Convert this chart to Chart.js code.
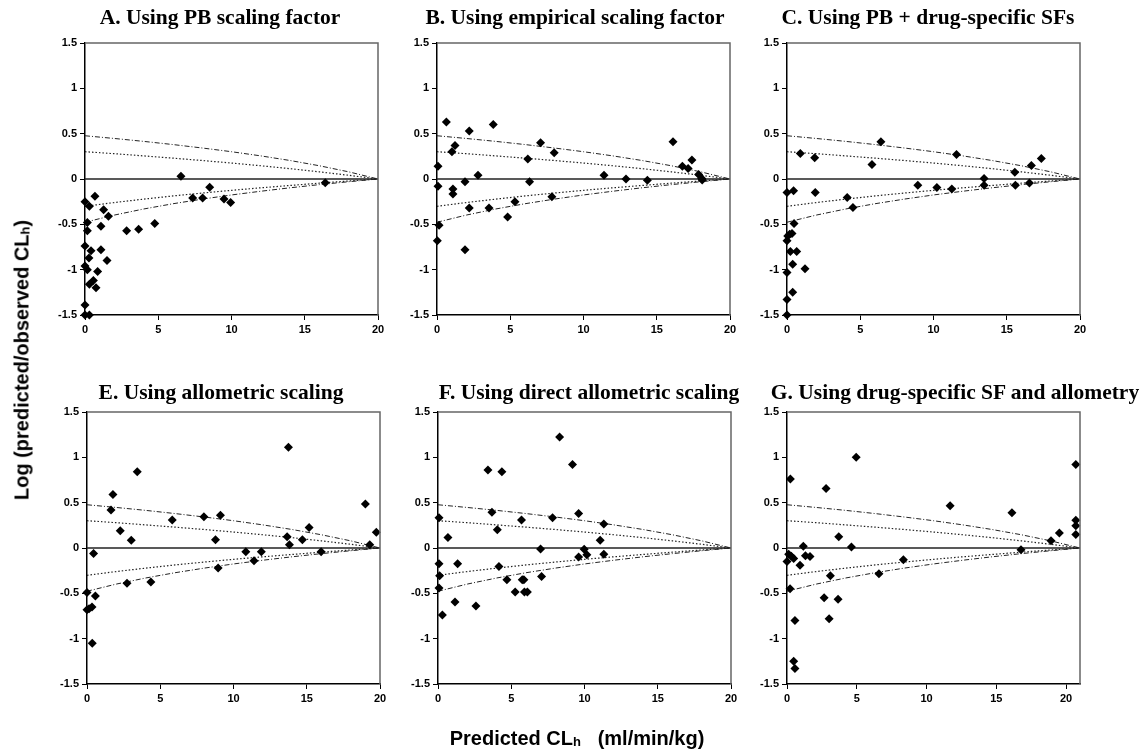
<!DOCTYPE html>
<html>
<head>
<meta charset="utf-8">
<script src="https://cdn.jsdelivr.net/npm/chart.js@4/dist/chart.umd.min.js"></script>
<style>
body { margin: 0; background: #fff; width: 1141px; height: 753px; position: relative; overflow: hidden; font-family: "Liberation Sans", Arial, sans-serif; }
canvas { position: absolute; }
.axt { position: absolute; font-weight: bold; font-size: 20px; white-space: nowrap; color: #000; }
.axt sub { font-size: 13px; vertical-align: -1px; }
.pt { position: absolute; transform: translate(-50%, -50%); font-family: "Liberation Serif", "Times New Roman", serif; font-weight: bold; font-size: 21.5px; white-space: nowrap; color: #000; }
#ytitle { left: 22px; top: 360px; transform: translate(-50%, -50%) rotate(-90deg); }
#xtitle { left: 577px; top: 738px; transform: translate(-50%, -50%); }
</style>
</head>
<body>
<canvas id="pA"></canvas>
<canvas id="pB"></canvas>
<canvas id="pC"></canvas>
<canvas id="pE"></canvas>
<canvas id="pF"></canvas>
<canvas id="pG"></canvas>
<div class="pt" style="left:220px;top:17px">A. Using PB scaling factor</div>
<div class="pt" style="left:575px;top:17px">B. Using empirical scaling factor</div>
<div class="pt" style="left:928px;top:17px">C. Using PB + drug-specific SFs</div>
<div class="pt" style="left:221px;top:392px">E. Using allometric scaling</div>
<div class="pt" style="left:589px;top:392px">F. Using direct allometric scaling</div>
<div class="pt" style="left:955px;top:392px">G. Using drug-specific SF and allometry</div>
<div class="axt" id="ytitle">Log (predicted/observed CL<sub>h</sub>)</div>
<div class="axt" id="xtitle">Predicted CL<sub>h</sub>&nbsp;&nbsp;&nbsp;(ml/min/kg)</div>
<script>
// axis ticks
var xTicks = [0, 5, 10, 15, 20];
var yTicks = [-1.5, -1, -0.5, 0, 0.5, 1, 1.5];

// 2-fold / 3-fold bound curves
var boundX  = [0, 2, 4, 6, 8, 10, 12, 14, 16, 18, 20];
var boundXG = [0, 2.1, 4.2, 6.3, 8.4, 10.5, 12.6, 14.7, 16.8, 18.9, 21];
var upper3 = [0.477, 0.447, 0.415, 0.380, 0.342, 0.301, 0.255, 0.204, 0.146, 0.079, 0];
var upper2 = [0.301, 0.279, 0.255, 0.230, 0.204, 0.176, 0.146, 0.114, 0.079, 0.041, 0];
var lower2 = [-0.301, -0.260, -0.222, -0.187, -0.155, -0.125, -0.097, -0.071, -0.046, -0.022, 0];
var lower3 = [-0.477, -0.398, -0.331, -0.273, -0.222, -0.176, -0.135, -0.097, -0.062, -0.030, 0];

// A. PB scaling factor
var aX = [0, 0.3, 0.68, 0.16, 0.16, 1.27, 1.6, 1.09, 0, 0.41, 1.09, 0.27, 1.5, 0, 0.16, 0.86, 0.57, 0.3, 0.75, 0, 0, 0.3, 2.84, 3.66, 4.76, 6.55, 7.35, 8.03, 8.51, 9.49, 9.94, 16.4];
var aY = [-0.25, -0.30, -0.19, -0.48, -0.57, -0.34, -0.41, -0.52, -0.74, -0.79, -0.78, -0.87, -0.9, -0.96, -1.0, -1.02, -1.12, -1.16, -1.2, -1.39, -1.5, -1.5, -0.57, -0.555, -0.49, 0.03, -0.21, -0.21, -0.09, -0.22, -0.26, -0.04];

// B. empirical scaling factor
var bX = [0.64, 1.23, 1.02, 2.2, 3.84, 0.07, 0.07, 1.09, 1.09, 1.91, 2.8, 2.2, 3.55, 5.32, 4.82, 0.14, 0.02, 1.91, 6.2, 6.32, 7.07, 8.0, 7.84, 11.4, 12.9, 14.36, 16.11, 16.75, 17.14, 17.4, 17.86, 18.07, 18.1];
var bY = [0.63, 0.37, 0.30, 0.53, 0.60, 0.14, -0.08, -0.11, -0.165, -0.03, 0.04, -0.32, -0.32, -0.25, -0.42, -0.51, -0.68, -0.78, 0.22, -0.03, 0.40, 0.29, -0.195, 0.04, 0, -0.015, 0.41, 0.14, 0.115, 0.21, 0.05, 0.005, -0.01];

// C. PB + drug-specific SFs
var cX = [0, 0.45, 0.91, 1.89, 1.93, 0.48, 0, 0.05, 0.18, 0.34, 0.23, 0.66, 0.39, 1.23, 0, 0.39, 0, 0, 6.41, 5.8, 11.57, 17.36, 16.68, 15.55, 13.45, 13.45, 15.59, 16.55, 8.93, 10.23, 11.25, 4.11, 4.5];
var cY = [-0.15, -0.13, 0.28, 0.235, -0.15, -0.49, -0.68, -0.63, -0.61, -0.6, -0.8, -0.8, -0.94, -0.99, -1.03, -1.25, -1.33, -1.5, 0.41, 0.16, 0.27, 0.225, 0.15, 0.075, 0.005, -0.07, -0.07, -0.045, -0.07, -0.095, -0.11, -0.205, -0.315];

// E. allometric scaling
var eX = [1.64, 1.77, 2.27, 3.43, 3.02, 0.45, 0, 0.57, 0, 0.14, 0.34, 0.36, 2.73, 4.36, 5.82, 7.98, 9.11, 8.77, 8.95, 10.84, 11.4, 11.9, 13.75, 13.66, 13.82, 14.7, 15.16, 15.98, 19.0, 19.3, 19.75];
var eY = [0.42, 0.59, 0.19, 0.84, 0.085, -0.06, -0.49, -0.53, -0.68, -0.67, -0.65, -1.05, -0.39, -0.375, 0.31, 0.345, 0.36, 0.09, -0.22, -0.04, -0.14, -0.04, 1.11, 0.125, 0.035, 0.09, 0.225, -0.04, 0.485, 0.035, 0.175];

// F. direct allometric scaling
var fX = [0.07, 0.68, 0.07, 0.11, 0.07, 0.3, 1.16, 1.34, 2.59, 3.41, 3.68, 4.05, 4.36, 4.16, 4.7, 5.27, 5.7, 5.75, 5.86, 5.9, 6.1, 7.0, 7.07, 7.82, 8.3, 9.18, 9.6, 9.6, 9.98, 10.16, 11.07, 11.32, 11.32];
var fY = [0.335, 0.115, -0.175, -0.305, -0.44, -0.74, -0.595, -0.175, -0.64, 0.86, 0.395, 0.2, 0.84, -0.205, -0.35, -0.485, 0.31, -0.35, -0.35, -0.485, -0.485, -0.01, -0.315, 0.335, 1.225, 0.92, 0.38, -0.1, -0.015, -0.075, 0.085, 0.265, -0.07];

// G. drug-specific SF and allometry
var gX = [0.24, 4.96, 2.8, 3.71, 4.62, 1.17, 0, 0.12, 0.31, 0.48, 1.32, 1.65, 0.93, 0.22, 0.57, 0.48, 0.57, 3.11, 2.66, 3.66, 3.02, 6.59, 8.34, 11.69, 16.12, 16.77, 18.92, 19.52, 20.7, 20.7, 20.7, 20.7];
var gY = [0.76, 1.0, 0.655, 0.125, 0.01, 0.02, -0.15, -0.07, -0.09, -0.115, -0.085, -0.095, -0.19, -0.45, -0.8, -1.25, -1.33, -0.305, -0.55, -0.565, -0.78, -0.285, -0.13, 0.465, 0.39, -0.02, 0.08, 0.165, 0.92, 0.305, 0.245, 0.15];

function pts(xs, ys) {
	return xs.map(function (x, i) { return {x: x, y: ys[i]}; });
}

var tickFont = {family: '"Liberation Sans", Arial, sans-serif', weight: 'bold', size: 11};

// gray top/right frame of each plot
var frame = {
	id: 'frame',
	afterDraw: function (chart) {
		var a = chart.chartArea, c = chart.ctx;
		c.save();
		c.strokeStyle = '#666';
		c.lineWidth = 1.5;
		c.beginPath();
		c.moveTo(a.left, a.top);
		c.lineTo(a.right, a.top);
		c.lineTo(a.right, a.bottom);
		c.stroke();
		c.restore();
	}
};

// plot area is 293 x 272, y axis box 60 wide, x axis box 30 high
function panel(id, xs, ys, xMax, bx, plotLeft, plotTop) {
	var cv = document.getElementById(id);
	cv.width = 60 + 293 + 15; cv.height = 43 + 272 + 30;
	cv.style.left = (plotLeft - 60) + 'px'; cv.style.top = (plotTop - 43) + 'px';
	var lineStyle = function (data, dash, w) {
		return {data: data, showLine: true, pointRadius: 0, borderColor: '#222', borderWidth: w, borderDash: dash, fill: false};
	};
	new Chart(cv, {
		type: 'scatter',
		data: {
			datasets: [
				{data: pts(xs, ys), pointStyle: 'rectRot', pointRadius: 4.5, backgroundColor: '#000', borderColor: '#000', borderWidth: 0, clip: false},
				lineStyle(pts(bx, upper3), [5, 2, 1, 2], 1),
				lineStyle(pts(bx, upper2), [1.5, 2], 1.2),
				lineStyle(pts(bx, lower2), [1.5, 2], 1.2),
				lineStyle(pts(bx, lower3), [5, 2, 1, 2], 1),
				lineStyle([{x: 0, y: 0}, {x: xMax, y: 0}], [], 1.5)
			]
		},
		options: {
			responsive: false,
			animation: false,
			layout: {padding: {left: 0, right: 15, top: 43, bottom: 0}},
			plugins: {
				legend: {display: false},
				tooltip: {enabled: false},
				title: {display: false}
			},
			scales: {
				x: {
					type: 'linear', min: 0, max: xMax,
					afterBuildTicks: function (s) { s.ticks = xTicks.map(function (v) { return {value: v}; }); },
					afterFit: function (s) { s.height = 30; },
					grid: {display: true, drawOnChartArea: false, drawTicks: true, tickLength: 5, color: '#000'},
					border: {display: true, color: '#000', width: 1.5},
					ticks: {font: tickFont, color: '#000', padding: 3, maxRotation: 0, callback: function (v) { return String(v); }}
				},
				y: {
					type: 'linear', min: -1.5, max: 1.5,
					afterBuildTicks: function (s) { s.ticks = yTicks.map(function (v) { return {value: v}; }); },
					afterFit: function (s) { s.width = 60; },
					grid: {display: true, drawOnChartArea: false, drawTicks: true, tickLength: 5, color: '#000'},
					border: {display: true, color: '#000', width: 1.5},
					ticks: {font: tickFont, color: '#000', padding: 3, callback: function (v) { return String(v); }}
				}
			}
		},
		plugins: [frame]
	});
}

panel('pA', aX, aY, 20, boundX, 85, 43);
panel('pB', bX, bY, 20, boundX, 437, 43);
panel('pC', cX, cY, 20, boundX, 787, 43);
panel('pE', eX, eY, 20, boundX, 87, 412);
panel('pF', fX, fY, 20, boundX, 438, 412);
panel('pG', gX, gY, 21, boundXG, 787, 412);
</script>
</body>
</html>
